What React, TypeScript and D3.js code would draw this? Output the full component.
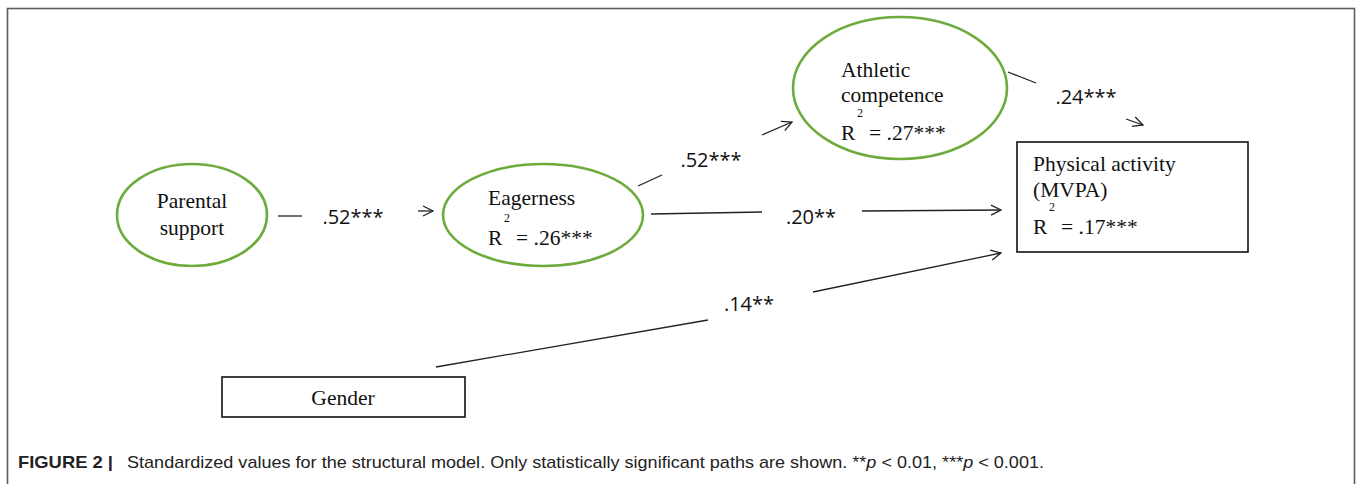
import React from 'react';
import * as d3 from 'd3';

// node labels, R² and path coefficients
const nodeLines = [['Parental', 'support'], ['Eagerness'], ['Athletic', 'competence'], ['Physical activity', '(MVPA)'], ['Gender']];
const nodeR2 = [null, '.26***', '.27***', '.17***', null];
const pathCoef = ['.52***', '.52***', '.20**', '.24***', '.14**'];
const captionLead = 'FIGURE 2 |';
const caption = 'Standardized values for the structural model. Only statistically significant paths are shown. ';

// layout of the diagram
const shapes = [
  { kind: 'ellipse', cx: 192, cy: 215, rx: 75, ry: 51 },
  { kind: 'ellipse', cx: 543, cy: 215, rx: 100, ry: 51 },
  { kind: 'ellipse', cx: 900, cy: 88, rx: 107, ry: 71 },
  { kind: 'rect', x: 1017, y: 142, w: 231, h: 110 },
  { kind: 'rect', x: 222, y: 377, w: 243, h: 40 },
];
const textPos = [
  { x: 192, y: 208, anchor: 'middle', lh: 27, r2y: 0 },
  { x: 488, y: 205, anchor: 'start', lh: 0, r2y: 245 },
  { x: 841, y: 77, anchor: 'start', lh: 25, r2y: 140 },
  { x: 1033, y: 171, anchor: 'start', lh: 26, r2y: 234 },
  { x: 343, y: 405, anchor: 'middle', lh: 0, r2y: 0 },
];
const paths = [
  { a: [[278, 216], [302, 216]], lbl: [353, 224], b: [[418, 211], [433, 211]] },
  { a: [[638, 186], [662, 175]], lbl: [711, 167], b: [[762, 135], [792, 122]] },
  { a: [[651, 214], [762, 212]], lbl: [811, 224], b: [[862, 211], [1001, 210]] },
  { a: [[1008, 72], [1036, 83]], lbl: [1086, 104], b: [[1126, 119], [1143, 125]] },
  { a: [[436, 367], [708, 320]], lbl: [749, 311], b: [[813, 292], [1001, 253]] },
];

const green = '#6cab3c';
const serif = '"Liberation Serif", "Times New Roman", serif';
const sans = '"Open Sans", "Noto Sans", sans-serif';
const capFont = '"Liberation Sans", Arial, sans-serif';

export default function App() {
  const line = d3.line();
  return (
    <svg width={1358} height={484} style={{ position: 'absolute', left: 0, top: 0 }}>
      <defs>
        <marker id="arr" viewBox="0 0 12 12" refX={11} refY={6} markerWidth={12} markerHeight={12}
          markerUnits="userSpaceOnUse" orient="auto">
          <path d="M1,1 L11,6 L1,11" fill="none" stroke="#222" strokeWidth={1.3} />
        </marker>
      </defs>
      <rect x={7.5} y={8.5} width={1347} height={500} fill="#fff" stroke="#5c5c5c" strokeWidth={1.6} />

      {shapes.map((s, i) =>
        s.kind === 'ellipse' ? (
          <ellipse key={i} cx={s.cx} cy={s.cy} rx={s.rx} ry={s.ry} fill="none" stroke={green} strokeWidth={2.6} />
        ) : (
          <rect key={i} x={s.x} y={s.y} width={s.w} height={s.h} fill="none" stroke="#111" strokeWidth={1.6} />
        )
      )}

      {nodeLines.map((lines, i) => {
        const p = textPos[i];
        return (
          <g key={i} fontFamily={serif} fontSize={21.5} fill="#111">
            {lines.map((t, j) => (
              <text key={j} x={p.x} y={p.y + j * p.lh} textAnchor={p.anchor}>{t}</text>
            ))}
            {nodeR2[i] && (
              <>
                <text x={p.x} y={p.r2y}>R</text>
                <text x={p.x + 16} y={p.r2y - 23} fontSize={12}>2</text>
                <text x={p.x + 28} y={p.r2y}>{'= ' + nodeR2[i]}</text>
              </>
            )}
          </g>
        );
      })}

      {paths.map((p, i) => (
        <g key={i}>
          <path d={line(p.a as [number, number][]) || ''} stroke="#222" strokeWidth={1.3} fill="none" />
          <path d={line(p.b as [number, number][]) || ''} stroke="#222" strokeWidth={1.3} fill="none" markerEnd="url(#arr)" />
          <text x={p.lbl[0]} y={p.lbl[1]} textAnchor="middle" fontFamily={sans} fontSize={20} fill="#111">{pathCoef[i]}</text>
        </g>
      ))}

      <text x={18} y={468} fontFamily={capFont} fontSize={17} fontWeight="bold" fill="#222"
        textLength={95} lengthAdjust="spacingAndGlyphs">{captionLead}</text>
      <text x={127} y={468} fontFamily={capFont} fontSize={17} fill="#222" textLength={917} lengthAdjust="spacingAndGlyphs">
        <tspan>{caption}</tspan>
        <tspan>**</tspan><tspan fontStyle="italic">p</tspan><tspan>{' < 0.01, ***'}</tspan>
        <tspan fontStyle="italic">p</tspan><tspan>{' < 0.001.'}</tspan>
      </text>
    </svg>
  );
}
